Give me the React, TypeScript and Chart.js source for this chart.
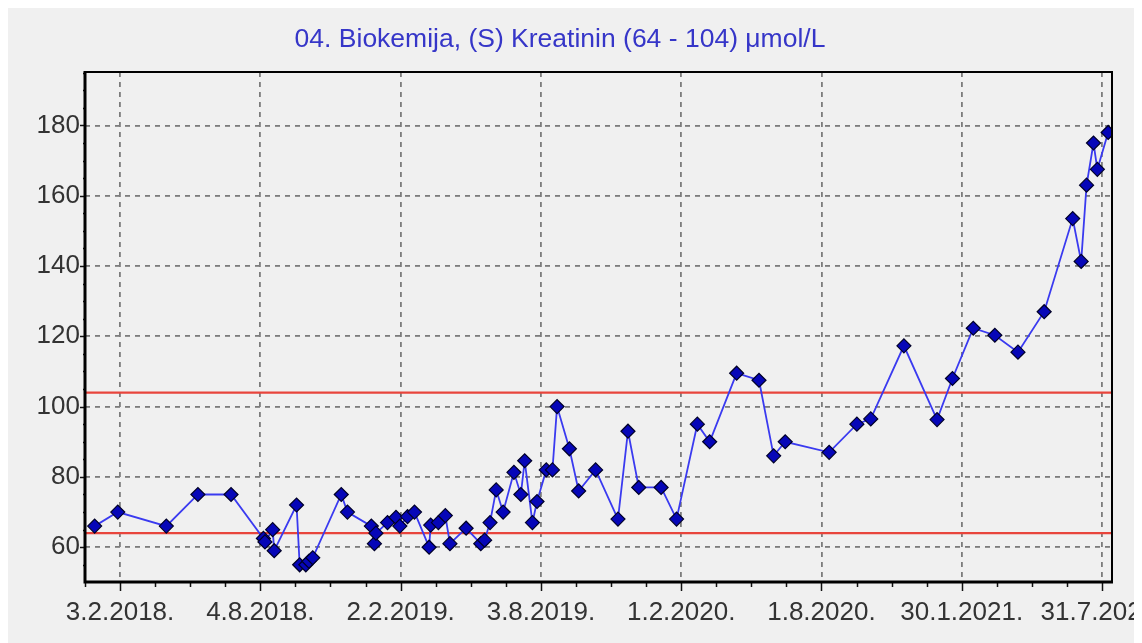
import React, { useEffect, useRef } from 'react';
import { Chart, registerables } from 'chart.js';

Chart.register(...registerables);

const TITLE = '04. Biokemija, (S) Kreatinin (64 - 104) μmol/L';

// sample dates as days after 3.2.2018
const sampleDays = [
  -33, -3, 60, 101, 144, 186, 188, 198, 200, 229,
  233, 241, 245, 250, 287, 295, 326, 330, 332, 347,
  358, 363, 373, 382, 401, 403, 413, 422, 428, 449,
  468, 473, 480, 488, 497, 511, 520, 525, 535, 541,
  553, 561, 567, 583, 595, 617, 646, 659, 673, 702,
  722, 749, 765, 800, 829, 848, 863, 920, 956, 974,
  1017, 1060, 1080, 1107, 1135, 1165, 1199, 1236, 1247, 1254,
  1263, 1268, 1282,
];
const creatinine = [
  66, 70, 66, 75, 75, 62.5, 61.5, 65, 59, 72,
  55, 55, 56, 57, 75, 70, 66, 61, 64, 67,
  68.5, 66, 68.7, 70, 60, 66.3, 67, 69, 61, 65.4,
  61, 62, 67, 76.3, 70, 81.3, 75, 84.6, 67, 73,
  82, 82, 100, 88, 76, 82, 68, 93, 77, 77,
  68, 95, 90, 109.5, 107.5, 86, 90, 87, 95, 96.5,
  117.3, 96.3, 108, 122.3, 120.3, 115.5, 127, 153.5, 141.3, 163,
  175, 167.5, 178,
];
const refLow = 64;
const refHigh = 104;

const xTickDays = [0, 182, 364, 546, 728, 910, 1092, 1274];
const xTickLabels = ['3.2.2018.', '4.8.2018.', '2.2.2019.', '3.8.2019.', '1.2.2020.', '1.8.2020.', '30.1.2021.', '31.7.2021.'];
const yTicks = [60, 80, 100, 120, 140, 160, 180];

const X_MIN = -45.5;
const X_MAX = 1287;
const Y_MIN = 50.1;
const Y_MAX = 195.2;
const X_MINOR_STEP = 45.5;
const Y_MINOR_STEP = 5;

const FONT = '"Liberation Sans", Arial, sans-serif';

const framePlugin = {
  id: 'frame',
  afterDraw(chart: any) {
    const { ctx, chartArea: a, scales } = chart;
    const xs = scales.x;
    const ys = scales.y;
    ctx.save();
    ctx.strokeStyle = '#111';
    ctx.lineWidth = 1.5;
    for (let d = X_MIN; d <= X_MAX + 0.01; d += X_MINOR_STEP) {
      const px = Math.round(xs.getPixelForValue(d)) + 0.5;
      const rem = ((d % 182) + 182) % 182;
      const major = rem < 0.01 || rem > 181.99;
      ctx.beginPath();
      ctx.moveTo(px, a.bottom);
      ctx.lineTo(px, a.bottom + (major ? 9 : 5));
      ctx.stroke();
    }
    for (let v = 50; v <= Y_MAX; v += Y_MINOR_STEP) {
      if (v < Y_MIN) continue;
      const py = Math.round(ys.getPixelForValue(v)) + 0.5;
      const major = v % 20 === 0;
      ctx.beginPath();
      ctx.moveTo(a.left, py);
      ctx.lineTo(a.left - (major ? 5 : 2), py);
      ctx.stroke();
    }
    ctx.strokeStyle = '#000';
    ctx.lineWidth = 2;
    ctx.strokeRect(a.left, a.top, a.right - a.left, a.bottom - a.top);
    ctx.lineWidth = 3;
    ctx.beginPath();
    ctx.moveTo(a.left, a.top - 1);
    ctx.lineTo(a.left, a.bottom);
    ctx.lineTo(a.right + 1, a.bottom);
    ctx.stroke();
    ctx.restore();
  },
};

export default function App() {
  const ref = useRef<HTMLCanvasElement | null>(null);

  useEffect(() => {
    if (!ref.current) return;
    const points = sampleDays.map((d, i) => ({ x: d, y: creatinine[i] }));
    const chart = new Chart(ref.current, {
      type: 'line',
      data: {
        datasets: [
          {
            data: points,
            borderColor: '#3a3af0',
            borderWidth: 1.8,
            pointStyle: 'rectRot',
            pointRadius: 7,
            pointBackgroundColor: '#0606b8',
            pointBorderColor: '#000028',
            pointBorderWidth: 1.2,
            tension: 0,
          },
          {
            data: [{ x: X_MIN, y: refHigh }, { x: X_MAX, y: refHigh }],
            borderColor: '#e8453c',
            borderWidth: 2.2,
            pointRadius: 0,
          },
          {
            data: [{ x: X_MIN, y: refLow }, { x: X_MAX, y: refLow }],
            borderColor: '#e8453c',
            borderWidth: 2.2,
            pointRadius: 0,
          },
        ],
      },
      options: {
        animation: false,
        responsive: false,
        layout: { padding: { left: 0, right: 66, top: 0, bottom: 0 } },
        plugins: {
          legend: { display: false },
          tooltip: { enabled: false },
          title: {
            display: true,
            text: TITLE,
            color: '#3636c8',
            font: { family: FONT, size: 26.5, weight: 'normal' },
            padding: { top: 16.1, bottom: 16.1 },
          },
        },
        scales: {
          x: {
            type: 'linear',
            min: X_MIN,
            max: X_MAX,
            afterBuildTicks: (s: any) => {
              s.ticks = xTickDays.map((v) => ({ value: v }));
            },
            afterFit: (s: any) => {
              s.height = 61;
            },
            ticks: {
              autoSkip: false,
              maxRotation: 0,
              minRotation: 0,
              padding: 7,
              color: '#333',
              font: { family: FONT, size: 26 },
              callback: (_v: any, i: number) => xTickLabels[i],
            },
            grid: {
              color: '#7c7c7c',
              lineWidth: 1.8,
              tickLength: 8,
              tickColor: 'rgba(0,0,0,0)',
            },
            border: { display: false, dash: [5, 5] },
          },
          y: {
            type: 'linear',
            min: Y_MIN,
            max: Y_MAX,
            afterBuildTicks: (s: any) => {
              s.ticks = yTicks.map((v) => ({ value: v }));
            },
            afterFit: (s: any) => {
              s.width = 77;
            },
            ticks: {
              padding: 1,
              color: '#333',
              font: { family: FONT, size: 26 },
              callback: (v: any) => String(v),
            },
            grid: {
              color: '#7c7c7c',
              lineWidth: 1.8,
              tickLength: 4,
              tickColor: 'rgba(0,0,0,0)',
            },
            border: { display: false, dash: [5, 5] },
          },
        },
      },
      plugins: [framePlugin],
    });
    return () => chart.destroy();
  }, []);

  return (
    <div style={{ width: 1126, height: 635, background: '#f0f0f0', overflow: 'hidden', position: 'relative' }}>
      <canvas ref={ref} width={1170} height={635} style={{ display: 'block', width: 1170, height: 635 }} />
    </div>
  );
}
